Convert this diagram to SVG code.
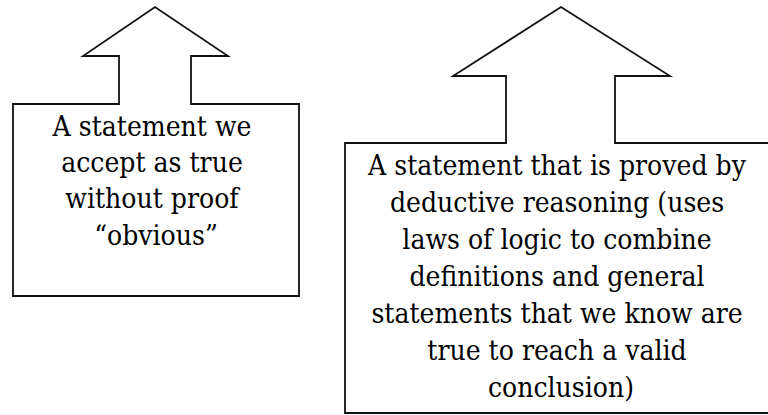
<svg xmlns="http://www.w3.org/2000/svg" width="768" height="415" viewBox="0 0 768 415">
  <style>
    .shape { fill: #ffffff; stroke: #111111; stroke-width: 1.8; stroke-linejoin: miter; }
    .label { fill: #000000; text-anchor: middle; font-family: 'DejaVu Serif Condensed', 'DejaVu Serif', serif; font-stretch: condensed; font-size: 28px; }
  </style>
  <rect x="0" y="0" width="768" height="415" fill="#ffffff"/>
  <g id="node-axiom">
    <path class="shape" d="M13,104 H119 V56 H83 L155,7 L228,56 H191 V104 H299 V296 H13 Z"/>
    <text class="label">
      <tspan x="156" y="136">A statement we</tspan>
      <tspan x="156" y="172">accept as true</tspan>
      <tspan x="156" y="208">without proof</tspan>
      <tspan x="156" y="245">“obvious”</tspan>
    </text>
  </g>
  <g id="node-theorem">
    <path class="shape" d="M345,143 H506 V76 H453 L561,7 L670,76 H615 V143 H777 V413 H345 Z"/>
    <text class="label">
      <tspan x="561" y="175">A statement that is proved by</tspan>
      <tspan x="561" y="212">deductive reasoning (uses</tspan>
      <tspan x="561" y="249">laws of logic to combine</tspan>
      <tspan x="561" y="286">definitions and general</tspan>
      <tspan x="561" y="323">statements that we know are</tspan>
      <tspan x="561" y="360">true to reach a valid</tspan>
      <tspan x="561" y="397">conclusion)</tspan>
    </text>
  </g>
  <g id="connectors"></g>
</svg>
